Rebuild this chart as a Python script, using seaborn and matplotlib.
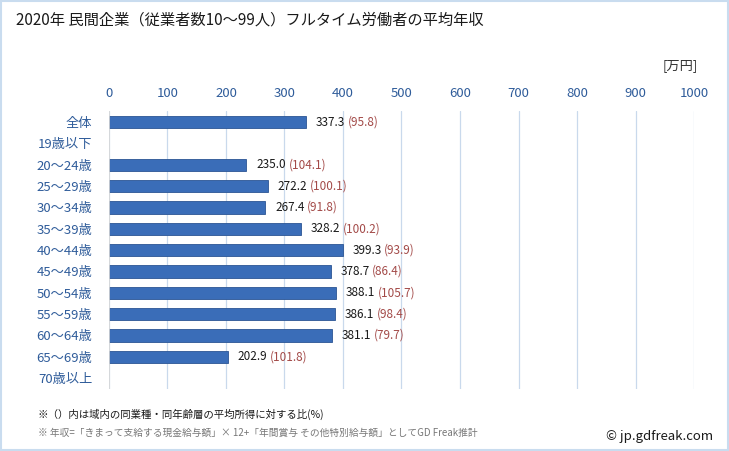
import numpy as np
import pandas as pd
import matplotlib.pyplot as plt
import seaborn as sns

# data
categories = ['全体', '19歳以下', '20〜24歳', '25〜29歳', '30〜34歳', '35〜39歳', '40〜44歳',
              '45〜49歳', '50〜54歳', '55〜59歳', '60〜64歳', '65〜69歳', '70歳以上']
income = [337.3, np.nan, 235.0, 272.2, 267.4, 328.2, 399.3, 378.7, 388.1, 386.1, 381.1, 202.9, np.nan]
ratio = [95.8, np.nan, 104.1, 100.1, 91.8, 100.2, 93.9, 86.4, 105.7, 98.4, 79.7, 101.8, np.nan]
xticks = [0, 100, 200, 300, 400, 500, 600, 700, 800, 900, 1000]

df = pd.DataFrame({'cat': categories, 'income': income, 'ratio': ratio})

sns.set_style('white')
plt.rcParams['font.family'] = ['Noto Sans CJK JP', 'DejaVu Sans']

fig = plt.figure(figsize=(7.29, 4.51), dpi=100)
ax = fig.add_axes([0.1495, 0.138, 0.8025, 0.615])

sns.barplot(data=df, x='income', y='cat', orient='h', color='#3A6DB8',
            width=0.58, edgecolor='#2B5594', linewidth=0.6, ax=ax, saturation=1)

ax.set_xlim(0, 1000)
ax.set_ylim(12.5, -0.5)
ax.set_xticks(xticks)
ax.xaxis.tick_top()
ax.tick_params(axis='x', length=0, labelsize=9.5, colors='#2F5C9A', pad=8)
ax.tick_params(axis='y', length=0, labelsize=9.5, colors='#2F5C9A', pad=12)
ax.set_xlabel('')
ax.set_ylabel('')
ax.grid(axis='x', color='#C9D9EC', linewidth=0.9)
ax.set_axisbelow(True)
for s in ax.spines.values():
    s.set_visible(False)
ax.axvline(0, color='#D8D8D8', linewidth=1.2)

# value labels
for i, (v, r) in enumerate(zip(income, ratio)):
    if np.isnan(v):
        continue
    t = ax.annotate(f'{v:.1f}', xy=(v, i), xytext=(7, 0), textcoords='offset points',
                    va='center', ha='left', fontsize=8.5, color='#1A1A1A')
    fig.canvas.draw()
    bb = t.get_window_extent()
    x_end = ax.transData.inverted().transform((bb.x1, 0))[0]
    ax.annotate(f'({r:.1f})', xy=(x_end, i), xytext=(2, 0), textcoords='offset points',
                va='center', ha='left', fontsize=8.5, color='#A34A48')

fig.text(0.022, 0.955, '2020年 民間企業（従業者数10〜99人）フルタイム労働者の平均年収',
         fontsize=11, color='#1A1A1A', va='center')
fig.text(0.957, 0.855, '[万円]', fontsize=9.5, color='#333333', ha='right', va='center')
fig.text(0.052, 0.082, '※（）内は域内の同業種・同年齢層の平均所得に対する比(%)',
         fontsize=7.5, color='#1A1A1A', va='center')
fig.text(0.052, 0.040, '※ 年収=「きまって支給する現金給与額」× 12+「年間賞与 その他特別給与額」としてGD Freak推計',
         fontsize=7, color='#777777', va='center')
fig.text(0.978, 0.033, '© jp.gdfreak.com', fontsize=9.5, color='#1A1A1A', ha='right', va='center')

# light border
fig.patches.append(plt.Rectangle((0.001, 0.002), 0.997, 0.995, transform=fig.transFigure,
                                 fill=False, edgecolor='#C9DCEF', linewidth=1.5))

fig.savefig('out.png', dpi=100)
